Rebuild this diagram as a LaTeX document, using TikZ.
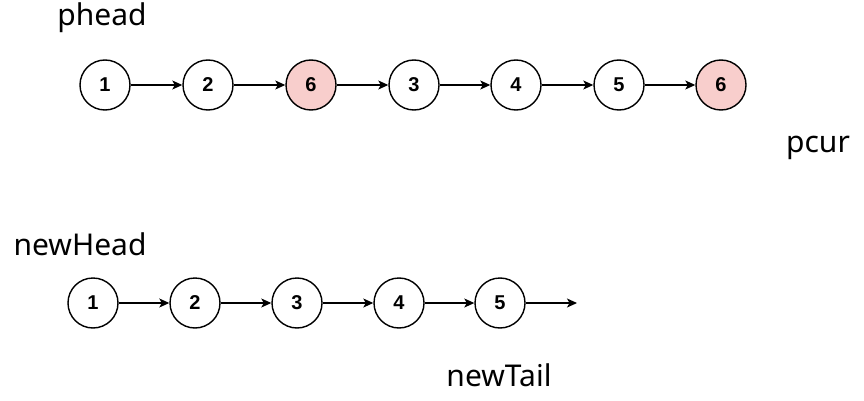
\documentclass[tikz,border=0pt]{standalone}
\usepackage{fontspec}
\setmainfont{Noto Sans}
\newfontfamily\numfont{Liberation Sans}
\usetikzlibrary{arrows.meta}
\definecolor{pinkfill}{HTML}{F8CECC}
\tikzset{
  listnode/.style={circle, draw=black, line width=1.4pt, minimum size=50pt, inner sep=0pt, fill=white, font=\numfont\bfseries\fontsize{20}{22}\selectfont},
  hotnode/.style={listnode, fill=pinkfill},
  link/.style={line width=1.2pt, -{Stealth[length=10pt,width=9pt,inset=2.5pt]}},
  lbl/.style={font=\fontsize{30}{34}\selectfont, inner sep=0pt}
}
\begin{document}
\begin{tikzpicture}[x=1pt,y=-1pt]
\useasboundingbox (0,0) rectangle (864,401);
\node[lbl] (phead) at (102,18) {phead};
\node[lbl] (pcur) at (818,148) {pcur};
\node[lbl] (newhead) at (80,244) {newHead};
\node[lbl] (newtail) at (499,375) {newTail};

\node[listnode] (a1) at (105,85) {1};
\node[listnode] (a2) at (208,85) {2};
\node[hotnode]  (a3) at (311,85) {6};
\node[listnode] (a4) at (414,85) {3};
\node[listnode] (a5) at (516,85) {4};
\node[listnode] (a6) at (619,85) {5};
\node[hotnode]  (a7) at (721,85) {6};
\foreach \i/\j in {a1/a2,a2/a3,a3/a4,a4/a5,a5/a6,a6/a7}
  \draw[link] (\i) -- (\j);

\node[listnode] (b1) at (93,303) {1};
\node[listnode] (b2) at (195,303) {2};
\node[listnode] (b3) at (297,303) {3};
\node[listnode] (b4) at (399,303) {4};
\node[listnode] (b5) at (500,303) {5};
\coordinate (bend) at (577,303);
\foreach \i/\j in {b1/b2,b2/b3,b3/b4,b4/b5,b5/bend}
  \draw[link] (\i) -- (\j);
\end{tikzpicture}
\end{document}
